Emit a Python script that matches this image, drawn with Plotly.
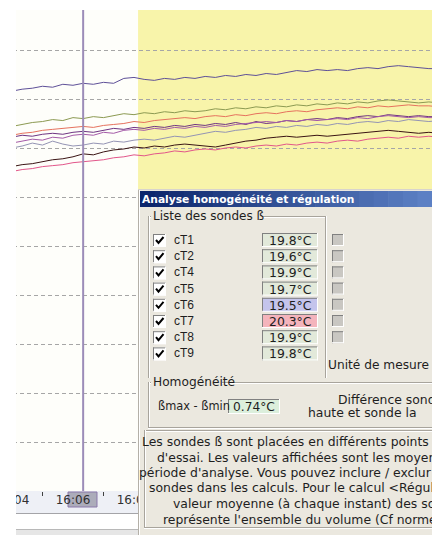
import plotly.graph_objects as go
from datetime import datetime, timedelta

W, H = 432, 535          # visible window
OFF = 8                  # figure extends 8 px beyond the left edge of the window
WF = W + OFF

# ---------------- data ----------------
t0 = datetime(2009, 6, 15, 16, 4, 0)
times = [t0 + timedelta(seconds=20 * i) for i in range(43)]

probe_names = ["cT1", "cT2", "cT4", "cT5", "cT6", "cT7", "cT8", "cT9"]
probe_means = ["19.8°C", "19.6°C", "19.9°C", "19.7°C", "19.5°C", "20.3°C", "19.9°C", "19.8°C"]
homog_value = "0.74°C"

cT7 = [20.09, 20.11, 20.12, 20.14, 20.13, 20.16, 20.15, 20.17, 20.16, 20.18, 20.17, 20.22, 20.23, 20.21,
       20.20, 20.22, 20.21, 20.23, 20.22, 20.24, 20.23, 20.25, 20.24, 20.26, 20.25, 20.27, 20.26, 20.28,
       20.30, 20.29, 20.31, 20.30, 20.31, 20.30, 20.32, 20.33, 20.32, 20.34, 20.35, 20.34, 20.33, 20.32, 20.32]
cT4 = [19.73, 19.75, 19.77, 19.78, 19.80, 19.79, 19.82, 19.81, 19.83, 19.82, 19.84, 19.86, 19.85, 19.87,
       19.86, 19.88, 19.87, 19.89, 19.88, 19.89, 19.91, 19.90, 19.92, 19.91, 19.93, 19.92, 19.94, 19.93,
       19.95, 19.94, 19.96, 19.95, 19.97, 19.96, 19.98, 19.97, 19.99, 20.00, 19.99, 19.98, 19.97, 19.98, 19.97]
cT8 = [19.64, 19.66, 19.67, 19.69, 19.70, 19.71, 19.72, 19.73, 19.72, 19.74, 19.75, 19.76, 19.78, 19.77,
       19.79, 19.80, 19.81, 19.82, 19.81, 19.83, 19.84, 19.83, 19.85, 19.84, 19.86, 19.87, 19.86, 19.88,
       19.89, 19.88, 19.90, 19.91, 19.92, 19.91, 19.93, 19.92, 19.94, 19.93, 19.94, 19.95, 19.94, 19.94, 19.93]
cT1 = [19.62, 19.64, 19.63, 19.65, 19.66, 19.65, 19.67, 19.68, 19.67, 19.69, 19.71, 19.70, 19.72, 19.71,
       19.73, 19.72, 19.74, 19.73, 19.75, 19.74, 19.76, 19.75, 19.77, 19.75, 19.78, 19.76, 19.77, 19.79,
       19.78, 19.80, 19.81, 19.80, 19.82, 19.81, 19.83, 19.84, 19.83, 19.85, 19.84, 19.83, 19.84, 19.83, 19.83]
cT9 = [19.56, 19.58, 19.60, 19.59, 19.62, 19.61, 19.64, 19.65, 19.64, 19.67, 19.66, 19.69, 19.70, 19.69,
       19.71, 19.70, 19.72, 19.71, 19.73, 19.72, 19.74, 19.73, 19.75, 19.76, 19.77, 19.78, 19.77, 19.79,
       19.78, 19.80, 19.79, 19.80, 19.81, 19.80, 19.82, 19.81, 19.83, 19.84, 19.83, 19.82, 19.83, 19.82, 19.82]
cT5 = [19.51, 19.53, 19.56, 19.54, 19.58, 19.55, 19.53, 19.54, 19.56, 19.55, 19.58, 19.57, 19.59, 19.60,
       19.59, 19.61, 19.63, 19.62, 19.64, 19.66, 19.68, 19.67, 19.69, 19.70, 19.72, 19.71, 19.73, 19.72,
       19.74, 19.73, 19.75, 19.74, 19.76, 19.75, 19.77, 19.78, 19.77, 19.79, 19.78, 19.80, 19.79, 19.78, 19.79]
cT2 = [19.32, 19.34, 19.35, 19.37, 19.39, 19.40, 19.42, 19.45, 19.44, 19.47, 19.49, 19.50, 19.52, 19.51,
       19.53, 19.52, 19.54, 19.55, 19.54, 19.53, 19.52, 19.54, 19.56, 19.58, 19.59, 19.61, 19.62, 19.63,
       19.62, 19.63, 19.64, 19.63, 19.64, 19.65, 19.66, 19.67, 19.68, 19.69, 19.68, 19.67, 19.66, 19.67, 19.66]
cT6 = [19.27, 19.29, 19.30, 19.32, 19.33, 19.34, 19.36, 19.37, 19.38, 19.39, 19.41, 19.42, 19.44, 19.43,
       19.45, 19.46, 19.48, 19.47, 19.49, 19.50, 19.49, 19.51, 19.52, 19.51, 19.53, 19.54, 19.53, 19.55,
       19.54, 19.56, 19.57, 19.56, 19.58, 19.59, 19.58, 19.60, 19.61, 19.62, 19.61, 19.63, 19.62, 19.63, 19.62]

series = {"cT7": cT7, "cT4": cT4, "cT8": cT8, "cT1": cT1, "cT9": cT9, "cT5": cT5, "cT2": cT2, "cT6": cT6}
colors = {"cT7": "#5e5098", "cT4": "#8c9a52", "cT8": "#e6725e", "cT1": "#6e3482",
          "cT9": "#a45aa8", "cT5": "#9494b4", "cT2": "#3a1414", "cT6": "#e2568a"}

grid_vals = [16.5, 17.0, 17.5, 18.0, 18.5, 19.0, 19.5, 20.0, 20.5]
tick_times = [datetime(2009, 6, 15, 16, 4), datetime(2009, 6, 15, 16, 6), datetime(2009, 6, 15, 16, 8)]
minor_times = [datetime(2009, 6, 15, 16, 5), datetime(2009, 6, 15, 16, 7)]
x_range = [datetime(2009, 6, 15, 16, 3, 20, 700000), datetime(2009, 6, 15, 16, 17, 46, 200000)]
y_range = [16.01, 20.918]
cursor_time = datetime(2009, 6, 15, 16, 6, 20)
analysis_start = datetime(2009, 6, 15, 16, 8, 8)
analysis_end = datetime(2009, 6, 15, 16, 30, 0)

# ---------------- figure ----------------
fig = go.Figure()
for name, vals in series.items():
    fig.add_trace(go.Scatter(x=times, y=vals, mode="lines", name=name,
                             line=dict(color=colors[name], width=1), hoverinfo="skip"))

shapes = []
annots = []


def PX(x):
    return (x + OFF) / WF


def PY(y):
    return 1 - y / H


def rect(x0, y0, x1, y1, fill, line=None, lw=1, layer="above"):
    shapes.append(dict(type="rect", xref="paper", yref="paper",
                       x0=PX(x0), x1=PX(x1), y0=PY(y1), y1=PY(y0),
                       fillcolor=fill, layer=layer,
                       line=dict(color=line if line else "rgba(0,0,0,0)", width=lw if line else 0)))


def hline(x0, x1, y, color, w=1, layer="above"):
    shapes.append(dict(type="line", xref="paper", yref="paper",
                       x0=PX(x0), x1=PX(x1), y0=PY(y + 0.5), y1=PY(y + 0.5),
                       line=dict(color=color, width=w), layer=layer))


def vline(x, y0, y1, color, w=1, layer="above"):
    shapes.append(dict(type="line", xref="paper", yref="paper",
                       x0=PX(x + 0.5), x1=PX(x + 0.5), y0=PY(y0), y1=PY(y1),
                       line=dict(color=color, width=w), layer=layer))


def text(x, y, s, size=12.4, color="#1e1e1e", family="DejaVu Sans", anchor="left"):
    annots.append(dict(x=PX(x), y=PY(y), xref="paper", yref="paper", text=s, showarrow=False,
                       xanchor=anchor, yanchor="middle", borderpad=0,
                       font=dict(size=size, color=color, family=family)))


def etched_h(x0, x1, y):
    hline(x0, x1, y, "#a8a49c")
    hline(x0, x1, y + 1, "#ffffff")


def etched_v(x, y0, y1):
    vline(x, y0, y1, "#a8a49c")
    vline(x + 1, y0, y1, "#ffffff")


def sunken(x0, y0, x1, y1, fill):
    rect(x0, y0, x1, y1, fill)
    hline(x0, x1, y0, "#808080")
    vline(x0, y0, y1, "#808080")
    hline(x0, x1, y1 - 1, "#ffffff")
    vline(x1 - 1, y0, y1, "#ffffff")


# plot area background (behind everything)
rect(16, 10, 432, 491, "#fefefa", layer="below")
# time axis strip
rect(16, 491, 432, 513, "#eef0f6", layer="below")
hline(16, 432, 513, "#a4a4a8", layer="below")
hline(16, 432, 529, "#b8b8b8", layer="below")
rect(16, 530, 432, 535, "#e6e6e6", layer="below")
# cursor label box on the time strip
rect(68, 492, 97, 507, "rgba(150,150,165,0.75)", line="#8a78aa", layer="below")

# analysis period (yellow)
shapes.append(dict(type="rect", xref="x", yref="y domain", x0=analysis_start, x1=analysis_end,
                   y0=0, y1=1, fillcolor="#f8f4aa", line=dict(width=0), layer="below"))
# cursor
shapes.append(dict(type="line", xref="x", yref="y domain", x0=cursor_time, x1=cursor_time,
                   y0=0, y1=1, line=dict(color="#9c8cb8", width=2), layer="above"))

# white mask at the left
rect(-OFF, 0, 16, 535, "#ffffff")

# ---------------- dialog ----------------
DX = 138
rect(DX, 189, 440, 540, "#ebe8df")
vline(DX, 189, 535, "#b4b0a8")
vline(DX + 1, 190, 535, "#ffffff")
hline(DX, 440, 189, "#d8d4cc")
# title bar gradient
c0 = (12, 38, 108)
c1 = (92, 128, 196)
n = 20
x_start, x_end = 140, 432
for k in range(n):
    f = k / (n - 1)
    col = "rgb(%d,%d,%d)" % tuple(int(c0[j] + (c1[j] - c0[j]) * f) for j in range(3))
    xa = x_start + (x_end - x_start) * k / n
    xb = x_start + (x_end - x_start) * (k + 1) / n + 0.6
    rect(xa, 191, xb, 207, col)
text(141, 199.5, "<b>Analyse homogénéité et régulation</b>", size=10.7, color="#ffffff",
     family="DejaVu Sans")

# group "Liste des sondes ß"
gx = 148
etched_h(gx, 151, 216)
etched_h(262, 325, 216)
etched_v(gx, 216, 378)
etched_v(325, 216, 378)
text(152, 216, "Liste des sondes ß", size=12)

row_y0 = 240
row_dy = 16.2
box_fills = ["#e2e9da", "#e2e9da", "#e2e9da", "#e2e9da", "#c4c4ec", "#f4b4bc", "#e2e9da", "#e2e9da"]
for i, (nm, val) in enumerate(zip(probe_names, probe_means)):
    yc = row_y0 + i * row_dy
    # checkbox
    sunken(153, yc - 6, 166, yc + 7, "#ffffff")
    shapes.append(dict(type="path", xref="paper", yref="paper", layer="above",
                       path="M %f %f L %f %f L %f %f" % (PX(156), PY(yc), PX(158.5), PY(yc + 3),
                                                       PX(163.5), PY(yc - 3)),
                       line=dict(color="#000000", width=2)))
    text(173, yc, nm, size=12, family="Liberation Sans")
    sunken(262, yc - 7, 318, yc + 7, box_fills[i])
    text(290, yc + 0.5, val, size=12.4, anchor="center")
    if i < 7:
        sunken(332, yc - 6, 344, yc + 6, "#c9c7c2")
text(327, 365, "Unité de mesure", size=12.2)

# group "Homogénéité"
etched_h(gx, 151, 382)
etched_h(222, 440, 382)
etched_v(gx, 382, 427)
etched_h(gx, 440, 427)
text(152, 382, "Homogénéité", size=12.2)
text(157, 406, "ßmax - ßmin", size=11.4)
sunken(228, 399, 280, 414, "#dcefdc")
text(254, 406.5, homog_value, size=12.2, anchor="center")
text(337, 399.5, "Différence sonde", size=12.4)
text(307, 412.5, "haute et sonde la", size=12.4)

# info panel
etched_h(144, 440, 430)
etched_v(144, 430, 527)
etched_h(144, 440, 527)
info_lines = [
    (141, "Les sondes ß sont placées en différents points"),
    (156, "d'essai. Les valeurs affichées sont les moyenn"),
    (138, "période d'analyse. Vous pouvez inclure / exclur"),
    (148, "sondes dans les calculs. Pour le calcul &lt;Régul"),
    (172, "valeur moyenne (à chaque instant) des so"),
    (162, "représente l'ensemble du volume (Cf norme"),
]
for k, (xl, s) in enumerate(info_lines):
    text(xl, 441.5 + k * 15.5, s, size=12.4)

fig.update_layout(
    width=WF, height=H,
    margin=dict(l=0, r=0, t=0, b=0),
    paper_bgcolor="#ffffff",
    plot_bgcolor="rgba(0,0,0,0)",
    showlegend=False,
    shapes=shapes,
    annotations=annots,
    xaxis=dict(domain=[0, 1], range=x_range, type="date",
               tickformat="%H:%M", tickmode="array", tickvals=tick_times,
               ticks="", showgrid=False, zeroline=False, showline=False,
               tickfont=dict(family="DejaVu Sans", size=12, color="#303030"),
               minor=dict(tickmode="array", tickvals=minor_times, ticks="outside",
                          ticklen=4, tickcolor="#404040", showgrid=False)),
    yaxis=dict(domain=[(H - 491) / H, (H - 10) / H], range=y_range,
               tickvals=grid_vals, showticklabels=False, ticks="",
               showgrid=True, gridcolor="#a6a6a6", griddash="4px,3px", gridwidth=1,
               zeroline=False, showline=False),
)

fig.write_html("out.html", config={"displayModeBar": False},
               post_script=("document.body.style.margin='0px';document.body.style.overflow='hidden';"
                            "document.getElementById('{plot_id}').style.marginLeft='-%dpx';" % OFF))
